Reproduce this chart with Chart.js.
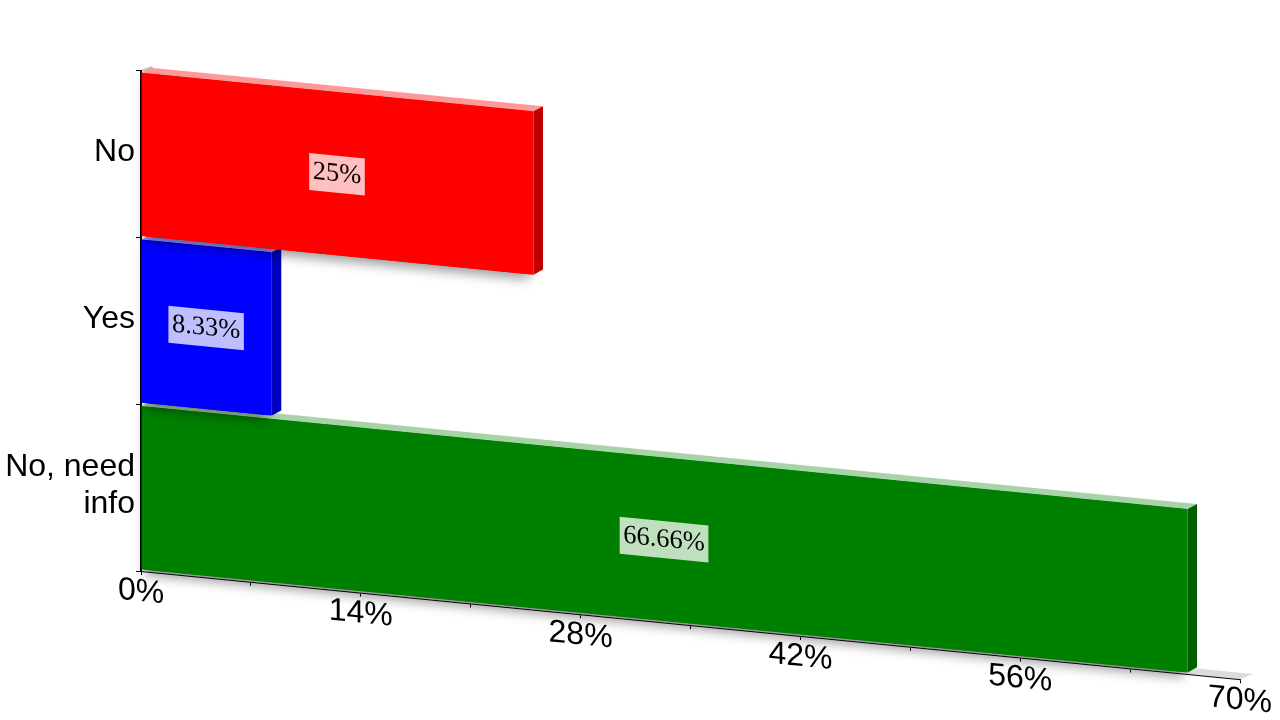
<!DOCTYPE html>
<html>
<head>
<meta charset="utf-8">
<style>
html, body { margin: 0; padding: 0; background: #fff; }
#wrap { width: 1280px; height: 720px; }
</style>
<script src="https://cdn.jsdelivr.net/npm/chart.js@4/dist/chart.umd.min.js"></script>
</head>
<body>
<div id="wrap"><canvas id="chart"></canvas></div>
<script>
// --- DATA ---
const categories = ['No', 'Yes', ['No, need', 'info']];
const percentValues = [25, 8.33, 66.66];
const xMax = 70;
const xStep = 7;

// --- LOOK ---
const frontColors = ['#ff0000', '#0000ff', '#008000'];
const topColors = ['#ff9999', '#9999ff', '#a8d3a8'];
const sideColors = ['#c00000', '#0000c0', '#006000'];
const SHEAR = 0.0985;
const DEPTH_X = 9.5;
const DEPTH_Y = -6;

function applyShear(ctx, chart) {
    ctx.transform(1, SHEAR, 0, 1, 0, -SHEAR * chart.chartArea.left);
}

function poly(ctx, pts, color) {
    ctx.beginPath();
    pts.forEach((p, i) => i ? ctx.lineTo(p[0], p[1]) : ctx.moveTo(p[0], p[1]));
    ctx.closePath();
    ctx.fillStyle = color;
    ctx.fill();
}

// floor and wall edge, extruded bars, value labels
const pseudo3d = {
    id: 'pseudo3d',
    beforeDraw(chart) {
        const { ctx, chartArea: a } = chart;
        ctx.save();
        applyShear(ctx, chart);
        poly(ctx, [[a.left, a.bottom], [a.right, a.bottom], [a.right + 13, a.bottom - 6.5], [a.left + 13, a.bottom - 6.5]], '#dcdcdc');
        ctx.restore();
        poly(ctx, [[a.left, a.top - 1], [a.left + 11, a.top - 5], [a.left + 12, a.top - 3], [a.left + 3, a.top + 1]], '#c4c4c4');
    },
    beforeDatasetDraw(chart, args) {
        const ctx = chart.ctx;
        const i = args.index;
        const bar = chart.getDatasetMeta(i).data[i];
        const h = bar.height / 2;
        const l = bar.base, r = bar.x, t = bar.y - h, b = bar.y + h;
        ctx.save();
        applyShear(ctx, chart);
        // soft shadow, kept under the front face so it only falls downward
        ctx.save();
        ctx.shadowColor = 'rgba(0,0,0,0.4)';
        ctx.shadowBlur = 12;
        ctx.shadowOffsetY = 5;
        poly(ctx, [[l + 4, t], [r - 4, t], [r - 4, b], [l + 4, b]], frontColors[i]);
        ctx.restore();
        poly(ctx, [[l, t], [l + DEPTH_X, t + DEPTH_Y], [r + DEPTH_X, t + DEPTH_Y], [r, t]], topColors[i]);
        poly(ctx, [[r, t], [r + DEPTH_X, t + DEPTH_Y], [r + DEPTH_X, b + DEPTH_Y], [r, b]], sideColors[i]);
    },
    afterDatasetDraw(chart, args) {
        const ctx = chart.ctx;
        const i = args.index;
        const bar = chart.getDatasetMeta(i).data[i];
        const label = percentValues[i] + '%';
        const cx = (bar.base + bar.x) / 2 - 0.5;
        const cy = bar.y + 0.5;
        ctx.font = '26.5px "Liberation Serif"';
        const w = ctx.measureText(label).width + 7;
        ctx.fillStyle = 'rgba(255,255,255,0.75)';
        ctx.fillRect(cx - w / 2, cy - 18.5, w, 37);
        ctx.fillStyle = '#000';
        ctx.textAlign = 'center';
        ctx.textBaseline = 'middle';
        ctx.fillText(label, cx, cy);
        ctx.restore();
    }
};

new Chart(document.getElementById('chart'), {
    type: 'bar',
    plugins: [pseudo3d],
    data: {
        labels: categories,
        datasets: percentValues.map((v, i) => ({
            data: categories.map((c, j) => (j === i ? v : null)),
            backgroundColor: frontColors[i],
            borderWidth: 0,
            barPercentage: 0.98,
            categoryPercentage: 1,
            clip: false
        }))
    },
    options: {
        indexAxis: 'y',
        responsive: true,
        maintainAspectRatio: false,
        animation: false,
        layout: { padding: { top: 71, right: 40, left: 0, bottom: 0 } },
        plugins: { legend: { display: false }, tooltip: { enabled: false } },
        scales: {
            x: {
                stacked: true,
                min: 0,
                max: xMax,
                afterFit(scale) {
                    scale.height = 149;
                    // the whole axis leans with the bars
                    scale.draw = function (area) {
                        const ctx = scale.ctx;
                        ctx.save();
                        applyShear(ctx, scale.chart);
                        Object.getPrototypeOf(scale).draw.call(scale, area);
                        ctx.restore();
                    };
                },
                border: { color: '#000', width: 1 },
                grid: { drawOnChartArea: false, tickLength: 4, color: '#000' },
                ticks: {
                    stepSize: xStep,
                    autoSkip: false,
                    maxRotation: 0,
                    padding: -2,
                    color: '#000',
                    font: { family: '"Liberation Sans"', size: 32 },
                    callback: v => (v % (xStep * 2) === 0 ? v + '%' : '')
                }
            },
            y: {
                stacked: true,
                afterFit(scale) { scale.width = 141; },
                border: { color: '#000', width: 2 },
                grid: { drawOnChartArea: false, tickLength: 5, color: '#000' },
                ticks: {
                    padding: 1,
                    labelOffset: -2,
                    color: '#000',
                    font: { family: '"Liberation Sans"', size: 32, lineHeight: 1.15 }
                }
            }
        }
    }
});
</script>
</body>
</html>
